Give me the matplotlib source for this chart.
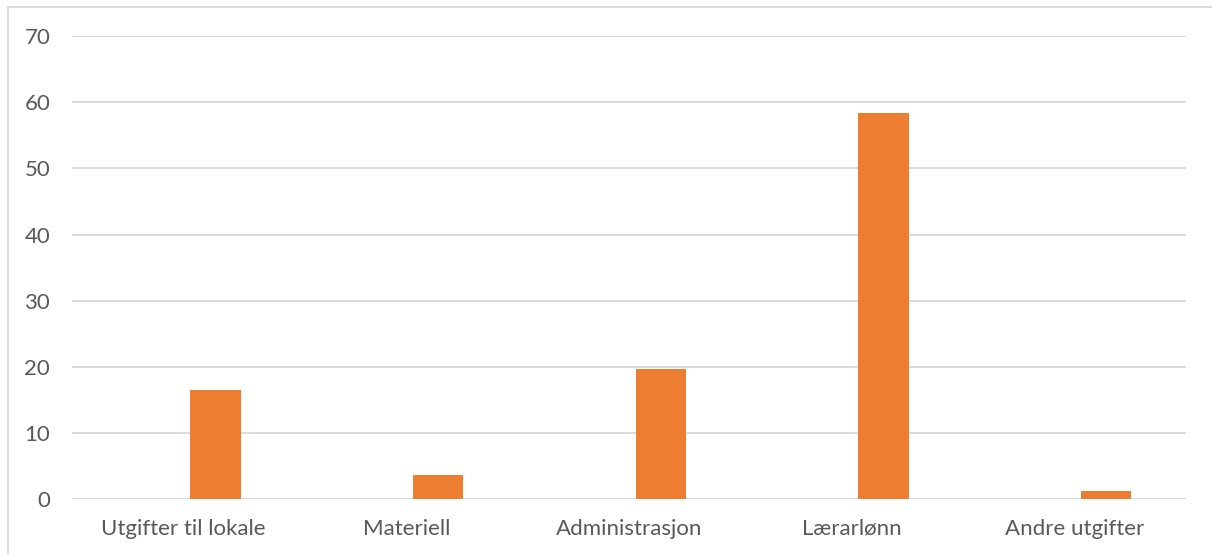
import matplotlib.pyplot as plt
import numpy as np

kategorier = ['Utgifter til lokale', 'Materiell', 'Administrasjon', 'Lærarlønn', 'Andre utgifter']
verdier = [16.5, 3.7, 19.7, 58.4, 1.3]
yticks = [0, 10, 20, 30, 40, 50, 60, 70]

plt.rcParams['font.family'] = ['Lato', 'DejaVu Sans']

fig = plt.figure(figsize=(12.12, 5.55), dpi=100)
ax = fig.add_axes([0.0597, 0.1004, 0.9186, 0.8347])

x = np.arange(len(kategorier))
# the bars sit right of the category centre (first series in the sheet is empty)
ax.bar(x + 0.143, verdier, width=0.227, color='#ED7D31', zorder=3)

ax.set_xlim(-0.5, len(kategorier) - 0.5)
ax.set_ylim(0, 70)
ax.set_yticks(yticks)
ax.set_xticks(x)
ax.set_xticklabels(kategorier)
ax.grid(axis='y', color='#d9d9d9', linewidth=1.3, zorder=0)
ax.tick_params(axis='both', length=0, labelsize=16, labelcolor='#595959')
ax.tick_params(axis='x', pad=14)
ax.tick_params(axis='y', pad=16)
for s in ax.spines.values():
    s.set_visible(False)

# outer chart border (only top and left show in the crop)
fig.add_artist(plt.Line2D([8 / 1212, 1], [1 - 7 / 555, 1 - 7 / 555], color='#d9d9d9', linewidth=1.2))
fig.add_artist(plt.Line2D([8 / 1212, 8 / 1212], [0, 1 - 7 / 555], color='#d9d9d9', linewidth=1.2))

fig.savefig('out.png', dpi=100)
